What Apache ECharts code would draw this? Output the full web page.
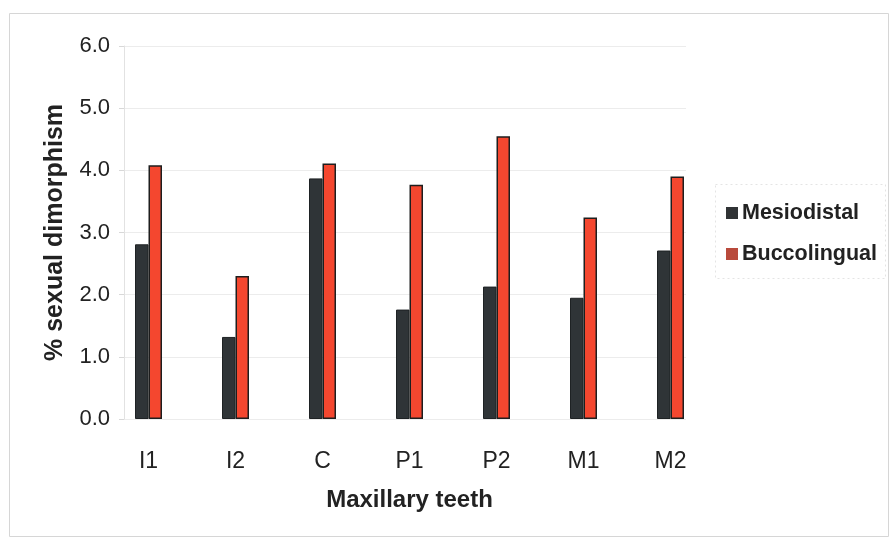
<!DOCTYPE html>
<html>
<head>
<meta charset="utf-8">
<script src="https://cdn.jsdelivr.net/npm/echarts@6/dist/echarts.min.js"></script>
<style>
  html, body { margin: 0; padding: 0; background: #fff; }
  #chart { width: 891px; height: 539px; }
</style>
</head>
<body>
<div id="chart"></div>
<script>
// Percent sexual dimorphism of maxillary tooth crown diameters
const teeth = ['I1', 'I2', 'C', 'P1', 'P2', 'M1', 'M2'];
const mesiodistal = [2.81, 1.32, 3.87, 1.76, 2.13, 1.95, 2.71];
const buccolingual = [4.08, 2.30, 4.11, 3.77, 4.55, 3.24, 3.90];
const yTicks = [0, 1, 2, 3, 4, 5, 6];

const FONT = '"Liberation Sans", Arial, sans-serif';
const INK = '#222';

const chart = echarts.init(document.getElementById('chart'), null, { renderer: 'canvas' });

chart.setOption({
  backgroundColor: '#fff',
  animation: false,
  textStyle: { fontFamily: FONT, color: INK },
  grid: [
    // value scale, gridlines and y labels
    { left: 124, top: 46, width: 562, height: 373 },
    // bars and category labels
    { left: 105, top: 46, width: 609, height: 373 }
  ],
  xAxis: [
    { type: 'category', gridIndex: 0, data: teeth, show: false },
    {
      type: 'category', gridIndex: 1, data: teeth,
      axisLine: { show: false },
      axisTick: { show: false },
      axisLabel: { fontSize: 23, color: INK, margin: 31, fontFamily: FONT },
      name: 'Maxillary teeth', nameLocation: 'middle', nameGap: 69,
      nameTextStyle: { fontSize: 24, fontWeight: 'bold', color: INK, fontFamily: FONT }
    }
  ],
  yAxis: [
    {
      type: 'value', gridIndex: 0, min: yTicks[0], max: yTicks[yTicks.length - 1], interval: 1,
      axisLine: { show: true, lineStyle: { color: '#e2e2e2', width: 1 } },
      axisTick: { show: true, length: 5, lineStyle: { color: '#d8d8d8' } },
      splitLine: { show: true, lineStyle: { color: '#ececec', width: 1 } },
      axisLabel: {
        fontSize: 22, color: INK, margin: 14, fontFamily: FONT,
        formatter: v => v.toFixed(1)
      },
      name: '% sexual dimorphism', nameLocation: 'middle', nameGap: 56,
      nameTextStyle: { fontSize: 25, fontWeight: 'bold', color: INK, fontFamily: FONT }
    },
    {
      type: 'value', gridIndex: 1, min: 0, max: 6, interval: 1, show: false
    }
  ],
  legend: {
    orient: 'vertical',
    left: 721, top: 197,
    itemWidth: 12, itemHeight: 12, itemGap: 19,
    icon: 'rect',
    textStyle: { fontSize: 21.5, fontWeight: 'bold', color: INK, fontFamily: FONT, padding: [0, 0, 0, -1] },
    data: [
      { name: 'Mesiodistal', itemStyle: { color: '#303335', borderWidth: 0 } },
      { name: 'Buccolingual', itemStyle: { color: '#b94a3c', borderWidth: 0 } }
    ]
  },
  series: [
    {
      name: 'Mesiodistal', type: 'bar', xAxisIndex: 1, yAxisIndex: 1,
      data: mesiodistal, barWidth: 13.5, barGap: '0%',
      itemStyle: { color: '#2f3437', borderColor: '#1e2224', borderWidth: 1 }
    },
    {
      name: 'Buccolingual', type: 'bar', xAxisIndex: 1, yAxisIndex: 1,
      data: buccolingual, barWidth: 13.5, barGap: '0%',
      itemStyle: { color: '#f4472f', borderColor: '#1e1e1e', borderWidth: 1.5 }
    }
  ],
  graphic: [
    // outer chart frame
    {
      type: 'rect', left: 7, top: 11, silent: true,
      shape: { width: 879, height: 523 },
      style: { fill: 'none', stroke: '#d6d6d6', lineWidth: 1 }
    },
    // legend box
    {
      type: 'rect', left: 713, top: 182, silent: true,
      shape: { width: 170, height: 94 },
      style: { fill: 'none', stroke: '#e4e4e4', lineWidth: 1, lineDash: [2, 3] }
    }
  ]
});
</script>
</body>
</html>
